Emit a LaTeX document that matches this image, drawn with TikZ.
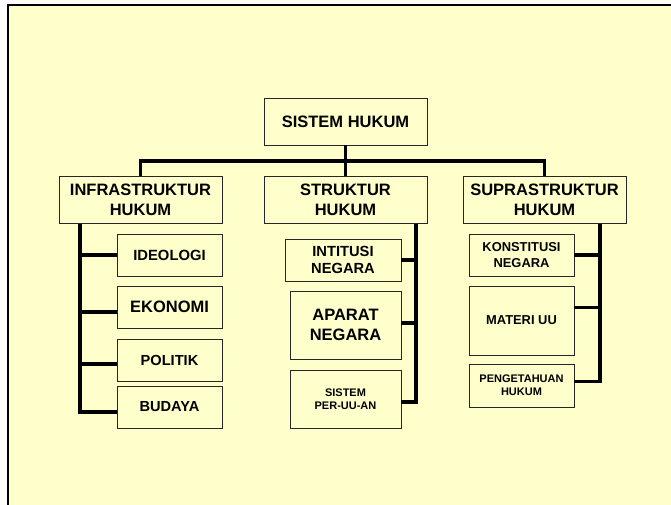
\documentclass[tikz,border=0pt]{standalone}
\usepackage{fontspec}
\setmainfont{Liberation Sans}
\definecolor{slidebg}{HTML}{FFFFCC}
\tikzset{
  box/.style={draw=black!85, line width=0.9pt, inner sep=0pt, align=center, text=black},
  conn/.style={line width=3.5pt, line join=miter},
  fs/.style n args={2}{font=\fontsize{#1}{#2}\selectfont\bfseries}
}
\begin{document}
\begin{tikzpicture}[x=1pt,y=-1pt]
\useasboundingbox (0,0) rectangle (671,505);
\fill[white] (0,0) rectangle (671,505);
\fill[slidebg] (8,5) rectangle (671,505);
\draw[line width=2pt] (8,505) -- (8,5) -- (671,5);

\node[box,fs={16.5}{19.3},minimum width=163pt,minimum height=47pt] (sis) at (345.5,121.5) {SISTEM HUKUM};
\node[box,fs={16.5}{19.3},minimum width=163pt,minimum height=47pt] (inf) at (140.5,199.7) {INFRASTRUKTUR\\HUKUM};
\node[box,fs={16.5}{19.3},minimum width=163pt,minimum height=47pt] (str) at (345.5,199.7) {STRUKTUR\\HUKUM};
\node[box,fs={16.5}{19.3},minimum width=163pt,minimum height=47pt] (sup) at (544.5,199.7) {SUPRASTRUKTUR\\HUKUM};

\node[box,fs={14.8}{17.7},minimum width=105pt,minimum height=42pt] (ideo) at (169.5,255) {IDEOLOGI};
\node[box,fs={16.5}{19.3},minimum width=105pt,minimum height=42pt] (eko) at (169.5,307) {EKONOMI};
\node[box,fs={14.6}{17.7},minimum width=105pt,minimum height=42pt] (pol) at (169.5,360) {POLITIK};
\node[box,fs={14.6}{17.7},minimum width=105pt,minimum height=42pt] (bud) at (169.5,407) {BUDAYA};

\node[box,fs={14.7}{17.7},minimum width=116pt,minimum height=42pt] (inst) at (343,260) {INTITUSI\\NEGARA};
\node[box,fs={16.5}{19.3},minimum width=111pt,minimum height=68pt] (apa) at (345.5,325) {APARAT\\NEGARA};
\node[box,fs={11}{13},minimum width=111pt,minimum height=58pt] (sper) at (345.5,399) {SISTEM\\PER-UU-AN};

\node[box,fs={12.9}{16},minimum width=105pt,minimum height=42pt] (kon) at (521.5,255) {KONSTITUSI\\NEGARA};
\node[box,fs={12.9}{16},minimum width=105pt,minimum height=69pt] (mat) at (521.5,320.5) {MATERI UU};
\node[box,fs={11}{12.7},minimum width=105pt,minimum height=43pt] (peng) at (521.5,385.5) {PENGETAHUAN\\HUKUM};

\coordinate (bus) at (345.5,161);
\coordinate (spL) at (80,0);
\coordinate (spM) at (416,0);
\coordinate (spR) at (600,0);
\coordinate (ekoB) at ([yshift=-5pt]eko.west);
\coordinate (polB) at ([yshift=-4pt]pol.west);
\coordinate (budB) at ([yshift=-5pt]bud.west);
\coordinate (apaB) at ([yshift=2pt]apa.east);
\coordinate (sperB) at ([yshift=-3pt]sper.east);
\coordinate (matB) at ([yshift=13pt]mat.east);
\coordinate (pengB) at ([yshift=4pt]peng.east);

\draw[conn] (sis.south) -- (str.north);
\draw[conn] (inf.north) |- (bus) -| (sup.north);

\draw[conn] (spL |- inf.south) -- (spL |- budB) -- (budB);
\draw[conn] (spL |- ideo.west) -- (ideo.west);
\draw[conn] (spL |- ekoB) -- (ekoB);
\draw[conn] (spL |- polB) -- (polB);

\draw[conn] (spM |- str.south) -- (spM |- sperB) -- (sperB);
\draw[conn] (spM |- inst.east) -- (inst.east);
\draw[conn] (spM |- apaB) -- (apaB);

\draw[conn] (spR |- sup.south) -- (spR |- pengB) -- (pengB);
\draw[conn] (spR |- kon.east) -- (kon.east);
\draw[conn] (spR |- matB) -- (matB);
\end{tikzpicture}
\end{document}
